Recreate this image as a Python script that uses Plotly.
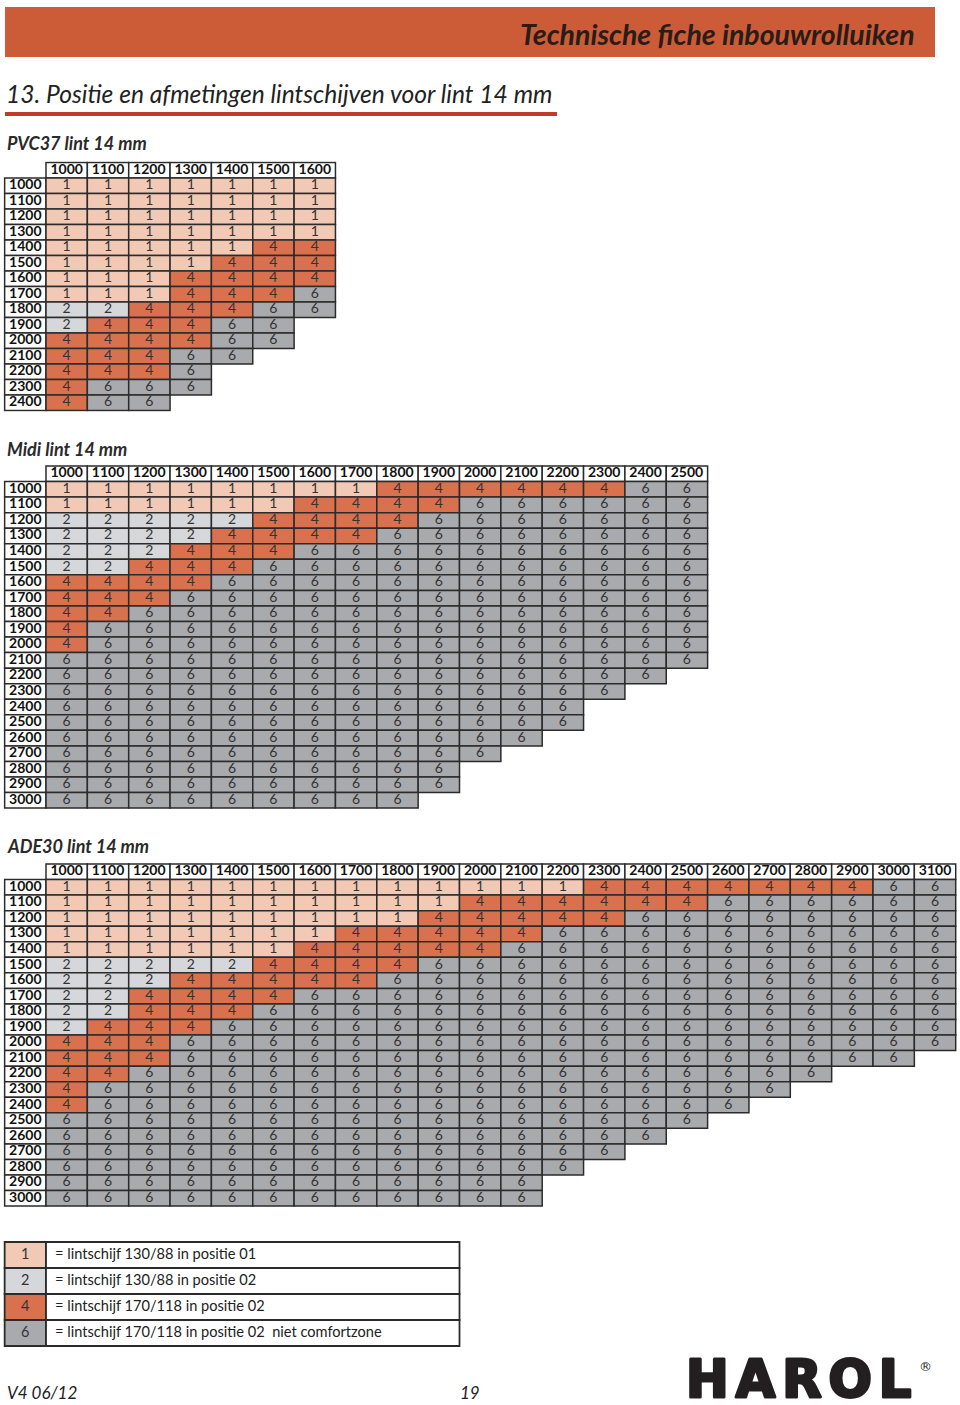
import plotly.graph_objects as go

W, H = 960, 1405

# ---------------- DATA ----------------
pvc_cols = [1000, 1100, 1200, 1300, 1400, 1500, 1600]
pvc_rows = [1000, 1100, 1200, 1300, 1400, 1500, 1600, 1700, 1800, 1900, 2000, 2100, 2200, 2300, 2400]
pvc_values = [
    [1, 1, 1, 1, 1, 1, 1],
    [1, 1, 1, 1, 1, 1, 1],
    [1, 1, 1, 1, 1, 1, 1],
    [1, 1, 1, 1, 1, 1, 1],
    [1, 1, 1, 1, 1, 4, 4],
    [1, 1, 1, 1, 4, 4, 4],
    [1, 1, 1, 4, 4, 4, 4],
    [1, 1, 1, 4, 4, 4, 6],
    [2, 2, 4, 4, 4, 6, 6],
    [2, 4, 4, 4, 6, 6],
    [4, 4, 4, 4, 6, 6],
    [4, 4, 4, 6, 6],
    [4, 4, 4, 6],
    [4, 6, 6, 6],
    [4, 6, 6],
]

midi_cols = [1000, 1100, 1200, 1300, 1400, 1500, 1600, 1700, 1800, 1900, 2000, 2100, 2200, 2300, 2400, 2500]
midi_rows = [1000, 1100, 1200, 1300, 1400, 1500, 1600, 1700, 1800, 1900, 2000,
             2100, 2200, 2300, 2400, 2500, 2600, 2700, 2800, 2900, 3000]
midi_values = [
    [1, 1, 1, 1, 1, 1, 1, 1, 4, 4, 4, 4, 4, 4, 6, 6],
    [1, 1, 1, 1, 1, 1, 4, 4, 4, 4, 6, 6, 6, 6, 6, 6],
    [2, 2, 2, 2, 2, 4, 4, 4, 4, 6, 6, 6, 6, 6, 6, 6],
    [2, 2, 2, 2, 4, 4, 4, 4, 6, 6, 6, 6, 6, 6, 6, 6],
    [2, 2, 2, 4, 4, 4, 6, 6, 6, 6, 6, 6, 6, 6, 6, 6],
    [2, 2, 4, 4, 4, 6, 6, 6, 6, 6, 6, 6, 6, 6, 6, 6],
    [4, 4, 4, 4, 6, 6, 6, 6, 6, 6, 6, 6, 6, 6, 6, 6],
    [4, 4, 4, 6, 6, 6, 6, 6, 6, 6, 6, 6, 6, 6, 6, 6],
    [4, 4, 6, 6, 6, 6, 6, 6, 6, 6, 6, 6, 6, 6, 6, 6],
    [4, 6, 6, 6, 6, 6, 6, 6, 6, 6, 6, 6, 6, 6, 6, 6],
    [4, 6, 6, 6, 6, 6, 6, 6, 6, 6, 6, 6, 6, 6, 6, 6],
    [6, 6, 6, 6, 6, 6, 6, 6, 6, 6, 6, 6, 6, 6, 6, 6],
    [6, 6, 6, 6, 6, 6, 6, 6, 6, 6, 6, 6, 6, 6, 6],
    [6, 6, 6, 6, 6, 6, 6, 6, 6, 6, 6, 6, 6, 6],
    [6, 6, 6, 6, 6, 6, 6, 6, 6, 6, 6, 6, 6],
    [6, 6, 6, 6, 6, 6, 6, 6, 6, 6, 6, 6, 6],
    [6, 6, 6, 6, 6, 6, 6, 6, 6, 6, 6, 6],
    [6, 6, 6, 6, 6, 6, 6, 6, 6, 6, 6],
    [6, 6, 6, 6, 6, 6, 6, 6, 6, 6],
    [6, 6, 6, 6, 6, 6, 6, 6, 6, 6],
    [6, 6, 6, 6, 6, 6, 6, 6, 6],
]

ade_cols = [1000, 1100, 1200, 1300, 1400, 1500, 1600, 1700, 1800, 1900, 2000,
            2100, 2200, 2300, 2400, 2500, 2600, 2700, 2800, 2900, 3000, 3100]
ade_rows = [1000, 1100, 1200, 1300, 1400, 1500, 1600, 1700, 1800, 1900, 2000,
            2100, 2200, 2300, 2400, 2500, 2600, 2700, 2800, 2900, 3000]
ade_values = [
    [1, 1, 1, 1, 1, 1, 1, 1, 1, 1, 1, 1, 1, 4, 4, 4, 4, 4, 4, 4, 6, 6],
    [1, 1, 1, 1, 1, 1, 1, 1, 1, 1, 4, 4, 4, 4, 4, 4, 6, 6, 6, 6, 6, 6],
    [1, 1, 1, 1, 1, 1, 1, 1, 1, 4, 4, 4, 4, 4, 6, 6, 6, 6, 6, 6, 6, 6],
    [1, 1, 1, 1, 1, 1, 1, 4, 4, 4, 4, 4, 6, 6, 6, 6, 6, 6, 6, 6, 6, 6],
    [1, 1, 1, 1, 1, 1, 4, 4, 4, 4, 4, 6, 6, 6, 6, 6, 6, 6, 6, 6, 6, 6],
    [2, 2, 2, 2, 2, 4, 4, 4, 4, 6, 6, 6, 6, 6, 6, 6, 6, 6, 6, 6, 6, 6],
    [2, 2, 2, 4, 4, 4, 4, 4, 6, 6, 6, 6, 6, 6, 6, 6, 6, 6, 6, 6, 6, 6],
    [2, 2, 4, 4, 4, 4, 6, 6, 6, 6, 6, 6, 6, 6, 6, 6, 6, 6, 6, 6, 6, 6],
    [2, 2, 4, 4, 4, 6, 6, 6, 6, 6, 6, 6, 6, 6, 6, 6, 6, 6, 6, 6, 6, 6],
    [2, 4, 4, 4, 6, 6, 6, 6, 6, 6, 6, 6, 6, 6, 6, 6, 6, 6, 6, 6, 6, 6],
    [4, 4, 4, 6, 6, 6, 6, 6, 6, 6, 6, 6, 6, 6, 6, 6, 6, 6, 6, 6, 6, 6],
    [4, 4, 4, 6, 6, 6, 6, 6, 6, 6, 6, 6, 6, 6, 6, 6, 6, 6, 6, 6, 6],
    [4, 4, 6, 6, 6, 6, 6, 6, 6, 6, 6, 6, 6, 6, 6, 6, 6, 6, 6],
    [4, 6, 6, 6, 6, 6, 6, 6, 6, 6, 6, 6, 6, 6, 6, 6, 6, 6],
    [4, 6, 6, 6, 6, 6, 6, 6, 6, 6, 6, 6, 6, 6, 6, 6, 6],
    [6, 6, 6, 6, 6, 6, 6, 6, 6, 6, 6, 6, 6, 6, 6, 6],
    [6, 6, 6, 6, 6, 6, 6, 6, 6, 6, 6, 6, 6, 6, 6],
    [6, 6, 6, 6, 6, 6, 6, 6, 6, 6, 6, 6, 6, 6],
    [6, 6, 6, 6, 6, 6, 6, 6, 6, 6, 6, 6, 6],
    [6, 6, 6, 6, 6, 6, 6, 6, 6, 6, 6, 6],
    [6, 6, 6, 6, 6, 6, 6, 6, 6, 6, 6, 6],
]

legend_codes = [1, 2, 4, 6]
legend_texts = [
    "= lintschijf 130/88 in positie 01",
    "= lintschijf 130/88 in positie 02",
    "= lintschijf 170/118 in positie 02",
    "= lintschijf 170/118 in positie 02  niet comfortzone",
]

# ---------------- STYLE ----------------
COLORS = {1: "#f2c9b5", 2: "#d6d7db", 4: "#d9714f", 6: "#a9aaae"}
BORDER = "#2b2b2b"
TXT = "#333333"
FONT = "Lato"
CELL_W = 41.35          # px per column
X0 = 46.0               # px of left edge of first data column

tables = [
    dict(title="PVC37 lint 14 mm", cols=pvc_cols, rows=pvc_rows, values=pvc_values,
         title_y=143, top=162.5, row_h=15.5),
    dict(title="Midi lint 14 mm", cols=midi_cols, rows=midi_rows, values=midi_values,
         title_y=449, top=466.0, row_h=15.55),
    dict(title="ADE30 lint 14 mm", cols=ade_cols, rows=ade_rows, values=ade_values,
         title_y=846, top=864.0, row_h=15.55),
]

fig = go.Figure()
layout_axes = {}
annotations = []
PAD = 0.08


def add_axes(k, xmin, xmax, ymax, top, row_h):
    xname = "xaxis" if k == 1 else f"xaxis{k}"
    yname = "yaxis" if k == 1 else f"yaxis{k}"
    lo, hi = xmin - PAD, xmax + PAD
    layout_axes[xname] = dict(domain=[(X0 + lo * CELL_W) / W, (X0 + hi * CELL_W) / W],
                              range=[lo, hi], visible=False, fixedrange=True,
                              anchor="y" if k == 1 else f"y{k}")
    ytop_px = top - PAD * row_h
    ybot_px = top + (ymax + 1 + PAD) * row_h
    layout_axes[yname] = dict(domain=[1 - ybot_px / H, 1 - ytop_px / H],
                              range=[ymax + 0.5 + PAD, -0.5 - PAD], visible=False, fixedrange=True,
                              anchor="x" if k == 1 else f"x{k}")
    return ("x" if k == 1 else f"x{k}"), ("y" if k == 1 else f"y{k}")


for k, t in enumerate(tables, start=1):
    cols, rows, vals = t["cols"], t["rows"], t["values"]
    xa, ya = add_axes(k, -1, len(cols), len(rows), t["top"], t["row_h"])

    bx, by, bbase, bcol = [], [], [], []
    # header row
    for j, c in enumerate(cols):
        bx.append(1); by.append(0); bbase.append(j); bcol.append("#ffffff")
    # row labels + values
    for i, r in enumerate(rows):
        bx.append(1); by.append(i + 1); bbase.append(-1); bcol.append("#ffffff")
        for j, v in enumerate(vals[i]):
            bx.append(1); by.append(i + 1); bbase.append(j); bcol.append(COLORS[v])
    fig.add_trace(go.Bar(orientation="h", x=bx, y=by, base=bbase, width=1,
                         marker=dict(color=bcol, line=dict(color=BORDER, width=1.5)),
                         xaxis=xa, yaxis=ya, hoverinfo="skip", showlegend=False))

    # bold labels
    lx = [j + 0.5 for j in range(len(cols))] + [-0.5] * len(rows)
    ly = [0] * len(cols) + [i + 1 for i in range(len(rows))]
    lt = [str(c) for c in cols] + [str(r) for r in rows]
    fig.add_trace(go.Scatter(x=lx, y=ly, text=lt, mode="text", textposition="middle center",
                             textfont=dict(family=FONT, size=14, color="#111111", weight="bold"),
                             xaxis=xa, yaxis=ya, hoverinfo="skip", showlegend=False))
    # values
    vx, vy, vt = [], [], []
    for i, rv in enumerate(vals):
        for j, v in enumerate(rv):
            vx.append(j + 0.5); vy.append(i + 1); vt.append(str(v))
    fig.add_trace(go.Scatter(x=vx, y=vy, text=vt, mode="text", textposition="middle center",
                             textfont=dict(family=FONT, size=14, color=TXT),
                             xaxis=xa, yaxis=ya, hoverinfo="skip", showlegend=False))

    annotations.append(dict(text=t["title"], x=5 / W, y=1 - t["title_y"] / H, xref="paper", yref="paper",
                            xanchor="left", yanchor="middle", showarrow=False,
                            font=dict(family=FONT, size=18, color="#2a2a2a", weight="bold", style="italic")))

# legend table
k = len(tables) + 1
LEG_TOP, LEG_H = 1242.0, 26.0
xa, ya = add_axes(k, -1, 10, len(legend_codes) - 1, LEG_TOP, LEG_H)
yname = f"yaxis{k}"
ybot_px = LEG_TOP + (len(legend_codes) + PAD) * LEG_H
ytop_px = LEG_TOP - PAD * LEG_H
layout_axes[yname]["domain"] = [1 - ybot_px / H, 1 - ytop_px / H]
layout_axes[yname]["range"] = [len(legend_codes) - 0.5 + PAD, -0.5 - PAD]

lbx, lby, lbb, lbc = [], [], [], []
for i, c in enumerate(legend_codes):
    lbx.append(1); lby.append(i); lbb.append(-1); lbc.append(COLORS[c])
    lbx.append(10); lby.append(i); lbb.append(0); lbc.append("#ffffff")
fig.add_trace(go.Bar(orientation="h", x=lbx, y=lby, base=lbb, width=1,
                     marker=dict(color=lbc, line=dict(color=BORDER, width=1.8)),
                     xaxis=xa, yaxis=ya, hoverinfo="skip", showlegend=False))
fig.add_trace(go.Scatter(x=[-0.5] * len(legend_codes), y=list(range(len(legend_codes))),
                         text=[str(c) for c in legend_codes], mode="text", textposition="middle center",
                         textfont=dict(family=FONT, size=14.5, color=TXT),
                         xaxis=xa, yaxis=ya, hoverinfo="skip", showlegend=False))
fig.add_trace(go.Scatter(x=[0.22] * len(legend_codes), y=list(range(len(legend_codes))),
                         text=legend_texts, mode="text", textposition="middle right",
                         textfont=dict(family=FONT, size=14.6, color="#222222"),
                         xaxis=xa, yaxis=ya, hoverinfo="skip", showlegend=False))

# page decorations
shapes = [
    dict(type="rect", xref="paper", yref="paper", x0=5 / W, x1=935 / W, y0=1 - 57 / H, y1=1 - 7 / H,
         fillcolor="#cc5b37", line=dict(width=0), layer="below"),
    dict(type="rect", xref="paper", yref="paper", x0=5 / W, x1=557 / W, y0=1 - 116 / H, y1=1 - 112 / H,
         fillcolor="#bf3b2a", line=dict(width=0), layer="below"),
]

annotations += [
    dict(text="Technische fiche inbouwrolluiken", x=917 / W, y=1 - 34 / H, xref="paper", yref="paper",
         xanchor="right", yanchor="middle", showarrow=False,
         font=dict(family=FONT, size=28.5, color="#2a1c17", weight="bold", style="italic")),
    dict(text="13. Positie en afmetingen lintschijven voor lint 14 mm", x=4 / W, y=1 - 94 / H,
         xref="paper", yref="paper", xanchor="left", yanchor="middle", showarrow=False,
         font=dict(family=FONT, size=24.6, color="#222222", weight=400, style="italic")),
    dict(text="V4 06/12", x=5 / W, y=1 - 1392 / H, xref="paper", yref="paper",
         xanchor="left", yanchor="middle", showarrow=False,
         font=dict(family=FONT, size=17, color="#222222", style="italic")),
    dict(text="19", x=470 / W, y=1 - 1392 / H, xref="paper", yref="paper",
         xanchor="center", yanchor="middle", showarrow=False,
         font=dict(family=FONT, size=17, color="#222222", style="italic")),
    dict(text='<span style="letter-spacing:7px;stroke:#231f20;stroke-width:3px;stroke-linejoin:round">HAROL</span>',
         x=684 / W, y=1 - 1379 / H,
         xref="paper", yref="paper", xanchor="left", yanchor="middle", showarrow=False,
         font=dict(family="DejaVu Sans", size=51, color="#231f20", weight="bold")),
    dict(text="®", x=917 / W, y=1 - 1366 / H, xref="paper", yref="paper",
         xanchor="left", yanchor="middle", showarrow=False,
         font=dict(family="DejaVu Sans", size=13, color="#231f20")),
]

fig.update_layout(
    width=W, height=H, margin=dict(l=0, r=0, t=0, b=0),
    paper_bgcolor="#ffffff", plot_bgcolor="rgba(0,0,0,0)",
    showlegend=False, barmode="overlay",
    shapes=shapes, annotations=annotations,
    **layout_axes,
)

fig.write_html("out.html", include_plotlyjs=True, full_html=True,
               config={"displayModeBar": False, "staticPlot": True},
               post_script="document.body.style.margin='0px';document.body.style.overflow='hidden';")
